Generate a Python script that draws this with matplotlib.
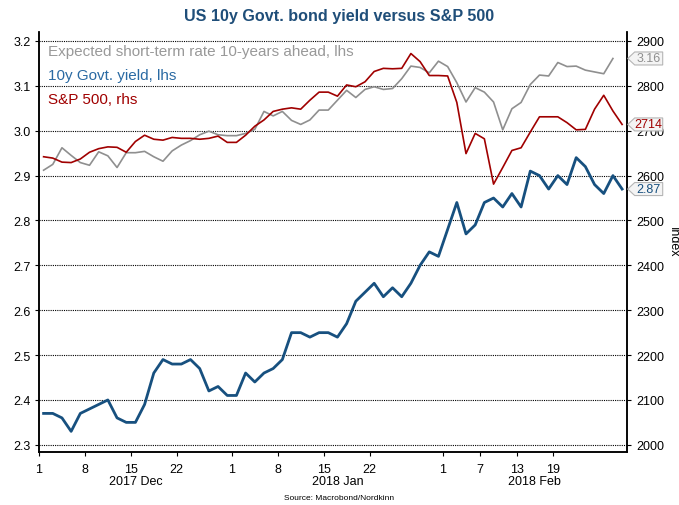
import numpy as np
import pandas as pd
import matplotlib
matplotlib.use('Agg')
import matplotlib.pyplot as plt
from matplotlib.patches import Polygon
from matplotlib.transforms import IdentityTransform, blended_transform_factory

plt.rcParams['font.family'] = ['Liberation Sans', 'DejaVu Sans']

# business days, 1 Dec 2017 - 28 Feb 2018
dates = pd.bdate_range('2017-12-01', '2018-02-28')

# 10y Govt. yield (lhs)
yield_10y = [2.37, 2.37, 2.36, 2.33, 2.37, 2.38, 2.39, 2.40, 2.36, 2.35,
             2.35, 2.39, 2.46, 2.49, 2.48, 2.48, 2.49, 2.47, 2.42, 2.43,
             2.41, 2.41, 2.46, 2.44, 2.46, 2.47, 2.49, 2.55, 2.55, 2.54,
             2.55, 2.55, 2.54, 2.57, 2.62, 2.64, 2.66, 2.63, 2.65, 2.63,
             2.66, 2.70, 2.73, 2.72, 2.78, 2.84, 2.77, 2.79, 2.84, 2.85,
             2.83, 2.86, 2.83, 2.91, 2.90, 2.87, 2.90, 2.88, 2.94, 2.92,
             2.88, 2.86, 2.90, 2.87]

# Expected short-term rate 10-years ahead (lhs), one day shorter
expected_rate = [2.912, 2.925, 2.962, 2.945, 2.929, 2.923, 2.953, 2.944, 2.918, 2.951,
                 2.951, 2.954, 2.942, 2.932, 2.955, 2.968, 2.978, 2.991, 2.999, 2.991,
                 2.989, 2.989, 2.994, 3.003, 3.043, 3.033, 3.043, 3.023, 3.014, 3.024,
                 3.046, 3.046, 3.068, 3.090, 3.074, 3.092, 3.098, 3.092, 3.094, 3.116,
                 3.144, 3.141, 3.129, 3.155, 3.143, 3.107, 3.064, 3.096, 3.086, 3.064,
                 3.002, 3.049, 3.063, 3.103, 3.124, 3.122, 3.152, 3.143, 3.144, 3.135,
                 3.131, 3.127, 3.161]

# S&P 500 (rhs)
spx = [2642, 2639, 2630, 2629, 2637, 2652, 2660, 2664, 2663, 2652,
       2676, 2690, 2681, 2679, 2685, 2683, 2683, 2681, 2683, 2688,
       2674, 2674, 2690, 2710, 2724, 2743, 2748, 2751, 2748, 2768,
       2786, 2786, 2777, 2802, 2798, 2809, 2832, 2839, 2838, 2839,
       2872, 2854, 2823, 2823, 2822, 2763, 2649, 2694, 2682, 2581,
       2618, 2656, 2662, 2697, 2731, 2731, 2731, 2718, 2702, 2703,
       2748, 2779, 2744, 2714]

tick_dates = ['2017-12-01', '2017-12-08', '2017-12-15', '2017-12-22',
              '2018-01-01', '2018-01-08', '2018-01-15', '2018-01-22',
              '2018-02-01', '2018-02-07', '2018-02-13', '2018-02-19']
month_labels = ['2017 Dec', '2018 Jan', '2018 Feb']

c_gray = '#8f8f8f'
c_red = '#a00000'
c_blue = '#17507f'

x = np.arange(len(dates)) + 0.5

fig = plt.figure(figsize=(6.79, 5.06), dpi=100)
ax = fig.add_axes([39/679, 1-453/506, (626.7-39)/679, (453-33)/506])
ax2 = ax.twinx()

ax.plot(x[:len(expected_rate)], expected_rate, color=c_gray, lw=1.2, zorder=3)
ax.plot(x, yield_10y, color=c_blue, lw=2.0, zorder=4)
ax2.plot(x, spx, color=c_red, lw=1.2, zorder=3)

ax.set_xlim(0, len(dates))
ax.set_ylim(2.284, 3.22)
ax2.set_ylim(1984, 2920)

ax.set_yticks(np.arange(2.3, 3.21, 0.1))
ax.set_yticklabels(['%.1f' % v for v in np.arange(2.3, 3.21, 0.1)])
ax2.set_yticks(np.arange(2000, 2901, 100))
ax.yaxis.grid(True, color='black', ls=(0, (1, 1)), lw=0.8)

tick_idx = [dates.get_loc(pd.Timestamp(d)) for d in tick_dates]
ax.set_xticks(tick_idx)
ax.set_xticklabels([str(pd.Timestamp(d).day) for d in tick_dates])

for a in (ax, ax2):
    a.spines['top'].set_visible(False)
    for s in ('left', 'right', 'bottom'):
        a.spines[s].set_linewidth(1.1)
    a.tick_params(labelsize=9, length=3, width=0.8, colors='black')
ax.tick_params(axis='x', pad=5)
ax.tick_params(axis='y', pad=3)
ax2.tick_params(axis='y', pad=4)

# month labels centred under each month
trans = blended_transform_factory(ax.transData, ax.transAxes)
months = dates.to_period('M')
starts = [i for i in range(len(dates)) if i == 0 or months[i] != months[i-1]] + [len(dates)]
for k, lab in enumerate(month_labels):
    mid = (starts[k] + starts[k+1]) / 2
    ax.annotate(lab, xy=(mid, 0), xycoords=trans, xytext=(0, -21),
                textcoords='offset points', ha='center', va='center', fontsize=9)

# series names
ax.text(9/588, 1-19/420, 'Expected short-term rate 10-years ahead, lhs', transform=ax.transAxes,
        color='#999999', fontsize=11, va='center')
ax.text(9/588, 1-43/420, '10y Govt. yield, lhs', transform=ax.transAxes,
        color='#2a6aa3', fontsize=11, va='center')
ax.text(9/588, 1-67/420, 'S&P 500, rhs', transform=ax.transAxes,
        color=c_red, fontsize=11, va='center')

# last value tags on the right (they sit over the axis labels, as in the original)
def tag(axis, val, label, color):
    px = ax.transAxes.transform((1, 0))[0]
    py = axis.transData.transform((0, val))[1]
    verts = [(px + 1, py), (px + 8, py + 6.5), (px + 36, py + 6.5),
             (px + 36, py - 6.5), (px + 8, py - 6.5)]
    fig.add_artist(Polygon(verts, closed=True, fc='#f4f4f4', ec='#b5b5b5', lw=0.8,
                           transform=IdentityTransform(), zorder=5))
    fig.text(px + 22, py, label, transform=IdentityTransform(), color=color,
             fontsize=9, ha='center', va='center', zorder=6)

tag(ax, expected_rate[-1], '%.2f' % expected_rate[-1], c_gray)
tag(ax2, spx[-1], '%d' % spx[-1], c_red)
tag(ax, yield_10y[-1], '%.2f' % yield_10y[-1], c_blue)

fig.text(0.5, 1-17/506, 'US 10y Govt. bond yield versus S&P 500', ha='center', va='center',
         fontsize=11.6, fontweight='bold', color='#1f4e79')
fig.text(673/679, 1-242/506, 'Index', rotation=270, ha='center', va='center', fontsize=9)
fig.text(0.5, 1-499/506, 'Source: Macrobond/Nordkinn', ha='center', va='center', fontsize=6)

fig.savefig('out.png', dpi=100)
